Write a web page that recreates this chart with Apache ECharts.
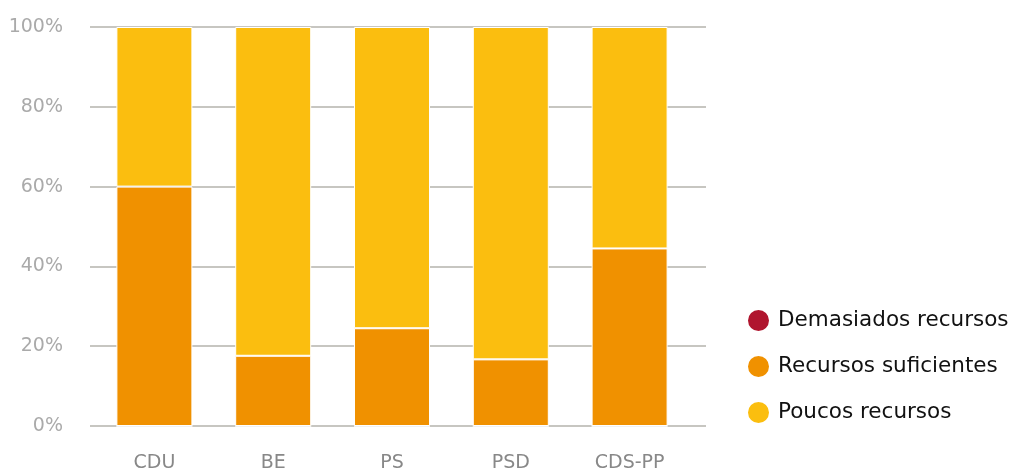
<!DOCTYPE html>
<html>
<head>
<meta charset="utf-8">
<script src="https://cdn.jsdelivr.net/npm/echarts@6/dist/echarts.min.js"></script>
<style>
  html, body { margin: 0; padding: 0; background: #fff; }
  #chart { width: 1014px; height: 473px; }
</style>
</head>
<body>
<div id="chart"></div>
<script>
// partidos e percentagens
const parties = ["CDU", "BE", "PS", "PSD", "CDS-PP"];
const demasiados = [0, 0, 0, 0, 0];
const suficientes = [60, 17.6, 24.5, 16.7, 44.5];
const poucos = [40, 82.4, 75.5, 83.3, 55.5];
const yTicks = [0, 20, 40, 60, 80, 100];

const font = "DejaVu Sans";
const chart = echarts.init(document.getElementById("chart"));

chart.setOption({
  animation: false,
  textStyle: { fontFamily: font },
  color: ["#b0152e", "#f09100", "#fbbe0f"],
  legend: {
    orient: "vertical",
    left: 741,
    top: 303,
    itemWidth: 23,
    itemHeight: 23,
    itemGap: 21,
    icon: "circle",
    textStyle: {
      fontSize: 21.5,
      color: "#111",
      fontFamily: font,
      padding: [0, 0, 0, 3],
    },
    data: ["Demasiados recursos", "Recursos suficientes", "Poucos recursos"],
  },
  grid: [
    // background grid for the wider gridlines
    { left: 90, right: 308, top: 27, bottom: 47 },
    { left: 95, right: 325, top: 27, bottom: 47 },
  ],
  xAxis: [
    { gridIndex: 0, type: "value", show: false, min: 0, max: 1 },
    {
      gridIndex: 1,
      type: "category",
      data: parties,
      axisLine: { show: false },
      axisTick: { show: false },
      axisLabel: { color: "#888", fontSize: 19, margin: 28 },
    },
  ],
  yAxis: [
    {
      gridIndex: 0,
      type: "value",
      min: 0,
      max: 100,
      interval: 20,
      axisLine: { show: false },
      axisTick: { show: false },
      axisLabel: {
        color: "#aaa",
        fontSize: 19,
        margin: 27,
        formatter: (v) => (yTicks.includes(v) ? v + "%" : ""),
      },
      splitLine: { lineStyle: { color: "#b5b3ad", width: 1.5 } },
    },
    {
      gridIndex: 1,
      type: "value",
      min: 0,
      max: 100,
      interval: 20,
      show: false,
      splitLine: { show: false },
    },
  ],
  series: [
    {
      name: "Demasiados recursos",
      type: "bar",
      stack: "total",
      xAxisIndex: 1,
      yAxisIndex: 1,
      barWidth: 76,
      data: demasiados,
      itemStyle: { borderColor: "#fff", borderWidth: 1 },
    },
    {
      name: "Recursos suficientes",
      type: "bar",
      stack: "total",
      xAxisIndex: 1,
      yAxisIndex: 1,
      barWidth: 76,
      data: suficientes,
      itemStyle: { borderColor: "#fff", borderWidth: 1 },
    },
    {
      name: "Poucos recursos",
      type: "bar",
      stack: "total",
      xAxisIndex: 1,
      yAxisIndex: 1,
      barWidth: 76,
      data: poucos,
      itemStyle: { borderColor: "#fff", borderWidth: 1 },
    },
  ],
});
</script>
</body>
</html>
